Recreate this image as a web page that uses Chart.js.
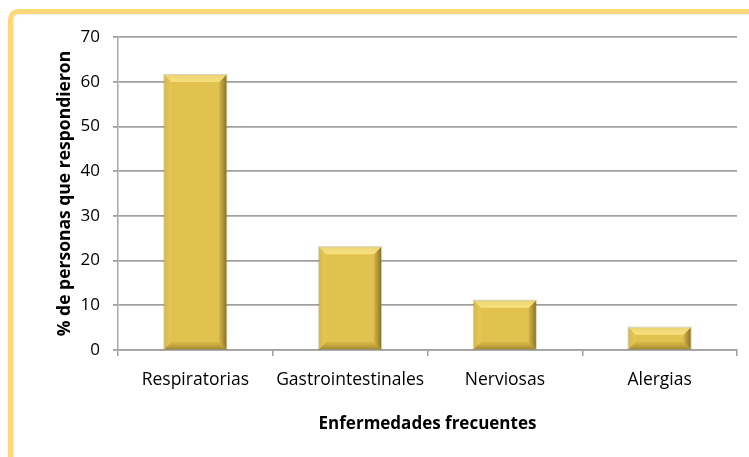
<!DOCTYPE html>
<html>
<head>
<meta charset="utf-8">
<script src="https://cdn.jsdelivr.net/npm/chart.js@4.4.0/dist/chart.umd.min.js"></script>
<style>
  html, body { margin: 0; padding: 0; background: #fff; }
  #wrap { position: relative; width: 749px; height: 457px; overflow: hidden; }
  #frame {
    position: absolute; left: 8px; top: 9px; width: 800px; height: 500px;
    border-top: 5px solid #fdd778; border-left: 5px solid #fdd778;
    border-top-left-radius: 10px;
    box-shadow: inset 1px 1px 2px rgba(0,0,0,0.08);
  }
  #chart { position: absolute; left: 0; top: 0; }
</style>
</head>
<body>
<div id="wrap">
  <div id="frame"></div>
  <canvas id="chart" width="749" height="457"></canvas>
</div>
<script>
// datos
const categorias = ["Respiratorias", "Gastrointestinales", "Nerviosas", "Alergias"];
const porcentajes = [61.5, 23, 11, 5];
const yTicks = [0, 10, 20, 30, 40, 50, 60, 70];

const FONT = "'Open Sans', 'DejaVu Sans', sans-serif";

// bisel de las barras (estilo Excel)
const bevelPlugin = {
  id: "bevel",
  afterDatasetsDraw(chart) {
    const ctx = chart.ctx;
    chart.getDatasetMeta(0).data.forEach((bar) => {
      const l = bar.x - bar.width / 2;
      const r = bar.x + bar.width / 2;
      const t = bar.y;
      const b = bar.base;
      const s = Math.min(7, (b - t) / 3);
      ctx.save();
      const edge = (pts, fill) => {
        ctx.beginPath();
        ctx.moveTo(pts[0][0], pts[0][1]);
        pts.slice(1).forEach((p) => ctx.lineTo(p[0], p[1]));
        ctx.closePath();
        ctx.fillStyle = fill;
        ctx.fill();
      };
      let g = ctx.createLinearGradient(0, t, 0, t + s);
      g.addColorStop(0, "rgba(255,245,170,0.35)");
      g.addColorStop(1, "rgba(255,235,140,0.75)");
      edge([[l, t], [r, t], [r - s, t + s], [l + s, t + s]], g);
      g = ctx.createLinearGradient(l, 0, l + s, 0);
      g.addColorStop(0, "rgba(200,170,60,0.5)");
      g.addColorStop(1, "rgba(240,215,110,0.2)");
      edge([[l, t], [l + s, t + s], [l + s, b - s], [l, b]], g);
      g = ctx.createLinearGradient(r - s, 0, r, 0);
      g.addColorStop(0, "rgba(150,125,40,0.25)");
      g.addColorStop(1, "rgba(95,78,20,0.7)");
      edge([[r, t], [r, b], [r - s, b - s], [r - s, t + s]], g);
      g = ctx.createLinearGradient(0, b - s, 0, b);
      g.addColorStop(0, "rgba(170,140,40,0.2)");
      g.addColorStop(1, "rgba(120,100,25,0.6)");
      edge([[l, b], [l + s, b - s], [r - s, b - s], [r, b]], g);
      ctx.strokeStyle = "rgba(130,110,40,0.3)";
      ctx.lineWidth = 1;
      ctx.strokeRect(l - 0.5, t - 0.5, r - l + 1, b - t + 1);
      ctx.restore();
    });
  },
};

const ctx = document.getElementById("chart").getContext("2d");
new Chart(ctx, {
  type: "bar",
  data: {
    labels: categorias,
    datasets: [
      {
        data: porcentajes,
        backgroundColor: "#e2c24f",
        borderWidth: 0,
        barPercentage: 0.4,
        categoryPercentage: 1,
      },
    ],
  },
  options: {
    responsive: false,
    animation: false,
    layout: { padding: { left: 0, right: 12, top: 37, bottom: 0 } },
    plugins: { legend: { display: false }, tooltip: { enabled: false } },
    scales: {
      x: {
        offset: true,
        grid: {
          offset: true,
          drawOnChartArea: false,
          drawTicks: true,
          tickLength: 6,
          color: "#a0a0a0",
          lineWidth: 1.5,
        },
        border: { color: "#a0a0a0", width: 1.5 },
        ticks: {
          color: "#000",
          padding: 14,
          maxRotation: 0,
          font: { family: FONT, size: 17.5 },
        },
        title: {
          display: true,
          text: "Enfermedades frecuentes",
          color: "#000",
          padding: { bottom: 23 },
          font: { family: FONT, size: 17, weight: "bold" },
        },
        afterFit: (scale) => {
          scale.height = 107;
        },
      },
      y: {
        min: 0,
        max: 70,
        afterBuildTicks: (scale) => {
          scale.ticks = yTicks.map((v) => ({ value: v }));
        },
        grid: {
          color: "#a0a0a0",
          lineWidth: 1.8,
          tickLength: 5,
        },
        border: { color: "#a8a8a8", width: 1.5 },
        ticks: {
          color: "#000",
          padding: 13,
          font: { family: FONT, size: 17 },
        },
        title: {
          display: true,
          text: "% de personas que respondieron",
          color: "#000",
          padding: { top: 55 },
          font: { family: FONT, size: 17.5, weight: "bold" },
        },
        afterFit: (scale) => {
          scale.width = 118;
        },
      },
    },
  },
  plugins: [bevelPlugin],
});
</script>
</body>
</html>
